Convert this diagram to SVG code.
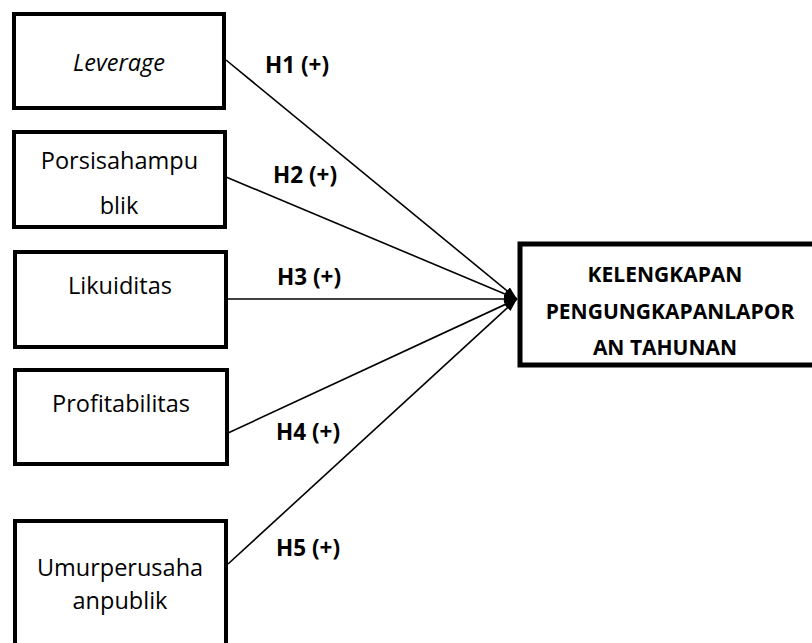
<svg xmlns="http://www.w3.org/2000/svg" width="812" height="643" viewBox="0 0 812 643">
<defs>
<style>
.box{fill:#fff;stroke:#000;stroke-width:4}
.tbox{fill:#fff;stroke:#000;stroke-width:5}
.lbl{font-family:"Open Sans","Liberation Sans",sans-serif;font-size:23.5px;fill:#000;text-anchor:middle}
.tl{font-family:"Open Sans","Liberation Sans",sans-serif;font-size:21px;font-weight:bold;fill:#000;text-anchor:middle}
.h{font-family:"Open Sans","Liberation Sans",sans-serif;font-size:22.5px;font-weight:bold;fill:#000}
.con{stroke:#000;stroke-width:1.6;fill:none;marker-end:url(#ah)}
</style>
<marker id="ah" viewBox="0 0 13 9" refX="13" refY="4.5" markerWidth="13" markerHeight="9" markerUnits="userSpaceOnUse" orient="auto">
<path d="M0,0 L13,4.5 L0,9 Z" fill="#000"/>
</marker>
</defs>
<rect width="812" height="643" fill="#fff"/>
<g id="connectors">
<line class="con" x1="226" y1="60" x2="517" y2="299"/>
<line class="con" x1="226" y1="177" x2="517" y2="299"/>
<line class="con" x1="226" y1="299" x2="517" y2="299"/>
<line class="con" x1="228" y1="433" x2="517" y2="299"/>
<line class="con" x1="228" y1="564" x2="517" y2="299"/>
</g>
<g id="n-leverage">
<rect class="box" x="14" y="14" width="210" height="94"/>
<text class="lbl" x="119" y="71" font-style="italic">Leverage</text>
</g>
<g id="n-porsi">
<rect class="box" x="14" y="132" width="211" height="95"/>
<text class="lbl" x="119.5" y="169">Porsisahampu</text>
<text class="lbl" x="119" y="214">blik</text>
</g>
<g id="n-likuiditas">
<rect class="box" x="15" y="252" width="211" height="95"/>
<text class="lbl" x="120" y="294">Likuiditas</text>
</g>
<g id="n-profit">
<rect class="box" x="15" y="370" width="212" height="94"/>
<text class="lbl" x="121" y="412">Profitabilitas</text>
</g>
<g id="n-umur">
<rect class="box" x="15" y="521" width="211" height="140"/>
<text class="lbl" x="120" y="576">Umurperusaha</text>
<text class="lbl" x="120" y="609">anpublik</text>
</g>
<g id="n-target">
<rect class="tbox" x="520" y="244" width="310" height="121"/>
<text class="tl" x="665" y="282">KELENGKAPAN</text>
<text class="tl" x="670" y="319">PENGUNGKAPANLAPOR</text>
<text class="tl" x="665" y="355">AN TAHUNAN</text>
</g>
<g id="labels">
<text class="h" x="265" y="73">H1 (+)</text>
<text class="h" x="273" y="183">H2 (+)</text>
<text class="h" x="277" y="285">H3 (+)</text>
<text class="h" x="276" y="440">H4 (+)</text>
<text class="h" x="276" y="556">H5 (+)</text>
</g>
</svg>
